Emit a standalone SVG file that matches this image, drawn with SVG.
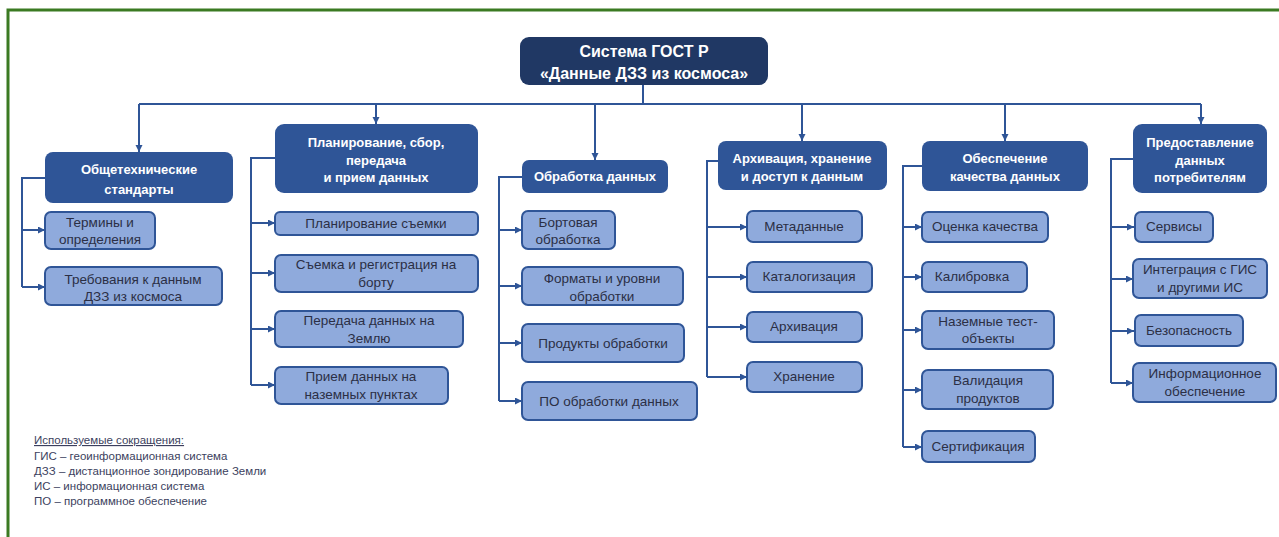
<svg xmlns="http://www.w3.org/2000/svg" width="1279" height="537" viewBox="0 0 1279 537">
<style>
.root{fill:#203864}
.l1{fill:#2F5597}
.ch{fill:#8FAADC;stroke:#2F5597;stroke-width:2}
.t0{font-family:"Liberation Sans",Arial,sans-serif;font-size:16px;font-weight:bold;fill:#ffffff;text-anchor:middle}
.t1{font-family:"Liberation Sans",Arial,sans-serif;font-size:13px;font-weight:bold;fill:#ffffff;text-anchor:middle}
.t2{font-family:"Liberation Sans",Arial,sans-serif;font-size:13.5px;fill:#2b2f45;text-anchor:middle}
.lg{font-family:"Liberation Sans",Arial,sans-serif;font-size:11.5px;fill:#3c3f5e}
.c{fill:none;stroke:#2F5597;stroke-width:2}
</style>
<defs>
<marker id="ar" markerUnits="userSpaceOnUse" markerWidth="8" markerHeight="8" refX="7" refY="3.5" orient="auto">
<path d="M0,0 L7,3.5 L0,7 z" fill="#2F5597"/>
</marker>
</defs>
<rect x="0" y="0" width="1279" height="537" fill="#ffffff"/>
<path d="M8,540 L8,10 L1285,10" fill="none" stroke="#3b7a22" stroke-width="3"/>

<g id="connectors">
<path class="c" d="M643,85 L643,104 M139,104 L1201,104"/>
<path class="c" marker-end="url(#ar)" d="M139,104 L139,152"/>
<path class="c" marker-end="url(#ar)" d="M376,104 L376,124"/>
<path class="c" marker-end="url(#ar)" d="M595,104 L595,160"/>
<path class="c" marker-end="url(#ar)" d="M802,104 L802,141"/>
<path class="c" marker-end="url(#ar)" d="M1005,104 L1005,141"/>
<path class="c" marker-end="url(#ar)" d="M1201,104 L1201,124"/>

<path class="c" d="M45,178 L22,178 L22,287"/>
<path class="c" marker-end="url(#ar)" d="M22,230 L45,230"/>
<path class="c" marker-end="url(#ar)" d="M22,287 L45,287"/>

<path class="c" d="M275,158 L251,158 L251,385"/>
<path class="c" marker-end="url(#ar)" d="M251,223 L275,223"/>
<path class="c" marker-end="url(#ar)" d="M251,273 L275,273"/>
<path class="c" marker-end="url(#ar)" d="M251,329 L275,329"/>
<path class="c" marker-end="url(#ar)" d="M251,385 L275,385"/>

<path class="c" d="M522,177 L499,177 L499,401"/>
<path class="c" marker-end="url(#ar)" d="M499,230 L522,230"/>
<path class="c" marker-end="url(#ar)" d="M499,286 L522,286"/>
<path class="c" marker-end="url(#ar)" d="M499,343 L522,343"/>
<path class="c" marker-end="url(#ar)" d="M499,401 L522,401"/>

<path class="c" d="M718,161 L707,161 L707,377"/>
<path class="c" marker-end="url(#ar)" d="M707,227 L747,227"/>
<path class="c" marker-end="url(#ar)" d="M707,277 L747,277"/>
<path class="c" marker-end="url(#ar)" d="M707,327 L747,327"/>
<path class="c" marker-end="url(#ar)" d="M707,377 L747,377"/>

<path class="c" d="M922,166 L903,166 L903,447"/>
<path class="c" marker-end="url(#ar)" d="M903,227 L922,227"/>
<path class="c" marker-end="url(#ar)" d="M903,277 L922,277"/>
<path class="c" marker-end="url(#ar)" d="M903,330 L922,330"/>
<path class="c" marker-end="url(#ar)" d="M903,390 L922,390"/>
<path class="c" marker-end="url(#ar)" d="M903,447 L922,447"/>

<path class="c" d="M1133,159 L1111,159 L1111,383"/>
<path class="c" marker-end="url(#ar)" d="M1111,227 L1134,227"/>
<path class="c" marker-end="url(#ar)" d="M1111,279 L1133,279"/>
<path class="c" marker-end="url(#ar)" d="M1111,331 L1134,331"/>
<path class="c" marker-end="url(#ar)" d="M1111,383 L1133,383"/>
</g>

<g id="root"><rect class="root" x="520" y="37" width="248" height="48" rx="9"/>
<text class="t0" x="644" y="57">Система ГОСТ Р</text>
<text class="t0" x="644" y="79">«Данные ДЗЗ из космоса»</text></g>

<g id="n-obsh"><rect class="l1" x="45" y="152" width="188" height="51" rx="8"/>
<text class="t1" x="139" y="174">Общетехнические</text>
<text class="t1" x="139" y="194">стандарты</text></g>
<g id="n-plan"><rect class="l1" x="275" y="124" width="203" height="69" rx="9"/>
<text class="t1" x="376" y="147">Планирование, сбор,</text>
<text class="t1" x="376" y="165">передача</text>
<text class="t1" x="376" y="182">и прием данных</text></g>
<g id="n-obr"><rect class="l1" x="522" y="160" width="146" height="33" rx="7"/>
<text class="t1" x="595" y="181">Обработка данных</text></g>
<g id="n-arh"><rect class="l1" x="718" y="141" width="169" height="49" rx="8"/>
<text class="t1" x="802" y="163">Архивация, хранение</text>
<text class="t1" x="802" y="181">и доступ к данным</text></g>
<g id="n-kach"><rect class="l1" x="922" y="141" width="166" height="50" rx="8"/>
<text class="t1" x="1005" y="163">Обеспечение</text>
<text class="t1" x="1005" y="181">качества данных</text></g>
<g id="n-pred"><rect class="l1" x="1133" y="124" width="134" height="69" rx="9"/>
<text class="t1" x="1200" y="147">Предоставление</text>
<text class="t1" x="1200" y="165">данных</text>
<text class="t1" x="1200" y="182">потребителям</text></g>

<g id="c-term"><rect class="ch" x="45" y="212" width="110" height="37" rx="6"/>
<text class="t2" x="100" y="227">Термины и</text>
<text class="t2" x="100" y="244">определения</text></g>
<g id="c-treb"><rect class="ch" x="45" y="267" width="177" height="38" rx="6"/>
<text class="t2" x="133" y="284">Требования к данным</text>
<text class="t2" x="133" y="301">ДЗЗ из космоса</text></g>

<g id="c-plans"><rect class="ch" x="275" y="212" width="203" height="23" rx="5"/>
<text class="t2" x="376" y="228">Планирование съемки</text></g>
<g id="c-sem"><rect class="ch" x="275" y="255" width="203" height="37" rx="6"/>
<text class="t2" x="376" y="269">Съемка и регистрация на</text>
<text class="t2" x="376" y="287">борту</text></g>
<g id="c-pered"><rect class="ch" x="275" y="311" width="188" height="36" rx="6"/>
<text class="t2" x="369" y="325">Передача данных на</text>
<text class="t2" x="369" y="343">Землю</text></g>
<g id="c-priem"><rect class="ch" x="275" y="367" width="173" height="37" rx="6"/>
<text class="t2" x="361" y="381">Прием данных на</text>
<text class="t2" x="361" y="399">наземных пунктах</text></g>

<g id="c-bort"><rect class="ch" x="522" y="211" width="93" height="38" rx="6"/>
<text class="t2" x="568" y="227">Бортовая</text>
<text class="t2" x="568" y="244">обработка</text></g>
<g id="c-form"><rect class="ch" x="522" y="267" width="161" height="38" rx="6"/>
<text class="t2" x="602" y="283">Форматы и уровни</text>
<text class="t2" x="602" y="301">обработки</text></g>
<g id="c-prod"><rect class="ch" x="522" y="324" width="162" height="38" rx="6"/>
<text class="t2" x="603" y="348">Продукты обработки</text></g>
<g id="c-po"><rect class="ch" x="522" y="382" width="175" height="38" rx="6"/>
<text class="t2" x="609" y="406">ПО обработки данных</text></g>

<g id="c-meta"><rect class="ch" x="747" y="211" width="115" height="31" rx="6"/>
<text class="t2" x="804" y="231">Метаданные</text></g>
<g id="c-kat"><rect class="ch" x="747" y="262" width="125" height="30" rx="6"/>
<text class="t2" x="809" y="281">Каталогизация</text></g>
<g id="c-arh"><rect class="ch" x="747" y="312" width="115" height="30" rx="6"/>
<text class="t2" x="804" y="331">Архивация</text></g>
<g id="c-hran"><rect class="ch" x="747" y="362" width="115" height="30" rx="6"/>
<text class="t2" x="804" y="381">Хранение</text></g>

<g id="c-ocen"><rect class="ch" x="922" y="212" width="126" height="30" rx="6"/>
<text class="t2" x="985" y="231">Оценка качества</text></g>
<g id="c-kal"><rect class="ch" x="922" y="262" width="105" height="30" rx="6"/>
<text class="t2" x="972" y="281">Калибровка</text></g>
<g id="c-nazem"><rect class="ch" x="922" y="311" width="132" height="38" rx="6"/>
<text class="t2" x="988" y="326">Наземные тест-</text>
<text class="t2" x="988" y="343">объекты</text></g>
<g id="c-valid"><rect class="ch" x="922" y="370" width="131" height="39" rx="6"/>
<text class="t2" x="988" y="385">Валидация</text>
<text class="t2" x="988" y="403">продуктов</text></g>
<g id="c-sert"><rect class="ch" x="922" y="431" width="113" height="31" rx="6"/>
<text class="t2" x="978" y="451">Сертификация</text></g>

<g id="c-serv"><rect class="ch" x="1135" y="212" width="78" height="30" rx="6"/>
<text class="t2" x="1174" y="231">Сервисы</text></g>
<g id="c-integ"><rect class="ch" x="1133" y="259" width="134" height="39" rx="6"/>
<text class="t2" x="1200" y="274">Интеграция с ГИС</text>
<text class="t2" x="1200" y="292">и другими ИС</text></g>
<g id="c-bez"><rect class="ch" x="1135" y="315" width="108" height="31" rx="6"/>
<text class="t2" x="1189" y="335">Безопасность</text></g>
<g id="c-inf"><rect class="ch" x="1133" y="363" width="143" height="39" rx="6"/>
<text class="t2" x="1205" y="378">Информационное</text>
<text class="t2" x="1205" y="396">обеспечение</text></g>

<g id="legend">
<text class="lg" x="34" y="444" text-decoration="underline">Используемые сокращения:</text>
<text class="lg" x="34" y="460">ГИС – геоинформационная система</text>
<text class="lg" x="34" y="475">ДЗЗ – дистанционное зондирование Земли</text>
<text class="lg" x="34" y="490">ИС – информационная система</text>
<text class="lg" x="34" y="505">ПО – программное обеспечение</text>
</g>
</svg>
